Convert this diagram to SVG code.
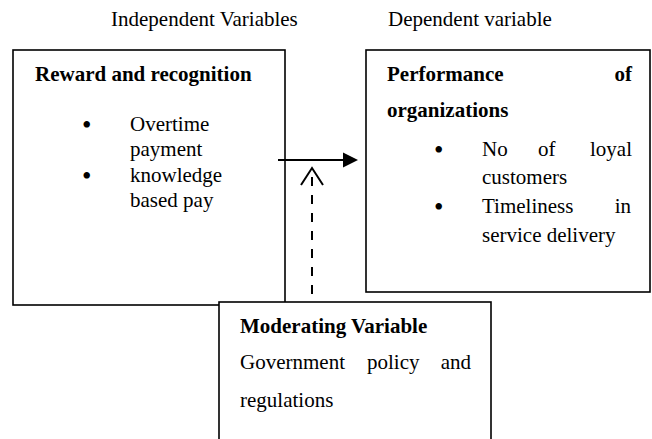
<svg xmlns="http://www.w3.org/2000/svg" width="652" height="439" viewBox="0 0 652 439">
<style>
text{font-family:"Liberation Serif","Times New Roman",serif;font-size:21px;fill:#000}
.b{font-weight:bold}
.bu{font-size:27px}
.box{fill:#fff;stroke:#000;stroke-width:1.6}
.ln{stroke:#000;stroke-width:2;fill:none}
</style>
<rect width="652" height="439" fill="#fff"/>
<text x="111" y="26">Independent Variables</text>
<text x="388" y="26">Dependent variable</text>
<g id="reward">
<rect class="box" x="13" y="50" width="272" height="255"/>
<text class="b" x="35" y="81">Reward and recognition</text>
<text class="bu" x="82" y="134">•</text>
<text x="130" y="131">Overtime</text>
<text x="130" y="156">payment</text>
<text class="bu" x="82" y="185">•</text>
<text x="130" y="182">knowledge</text>
<text x="130" y="207">based pay</text>
</g>
<g id="performance">
<rect class="box" x="366" y="50" width="284" height="242"/>
<text class="b" x="387" y="81">Performance</text>
<text class="b" x="632" y="81" text-anchor="end">of</text>
<text class="b" x="387" y="117">organizations</text>
<text class="bu" x="434" y="159">•</text>
<text x="482" y="156">No</text>
<text x="538" y="156">of</text>
<text x="632" y="156" text-anchor="end">loyal</text>
<text x="482" y="184">customers</text>
<text class="bu" x="434" y="216">•</text>
<text x="482" y="213">Timeliness</text>
<text x="631" y="213" text-anchor="end">in</text>
<text x="482" y="242">service delivery</text>
</g>
<g id="moderating">
<rect class="box" x="219" y="302" width="272" height="200"/>
<text class="b" x="240" y="333">Moderating Variable</text>
<text x="240" y="369">Government</text>
<text x="367" y="369">policy</text>
<text x="471" y="369" text-anchor="end">and</text>
<text x="240" y="407">regulations</text>
</g>
<g id="connectors">
<line class="ln" x1="278" y1="160" x2="345" y2="160"/>
<polygon points="343,152.5 358,160 343,167.5" fill="#000"/>
<line class="ln" x1="312" y1="294" x2="312" y2="176" stroke-dasharray="9,9"/>
<polyline class="ln" points="301,185 312,168 323,185"/>
</g>
</svg>
